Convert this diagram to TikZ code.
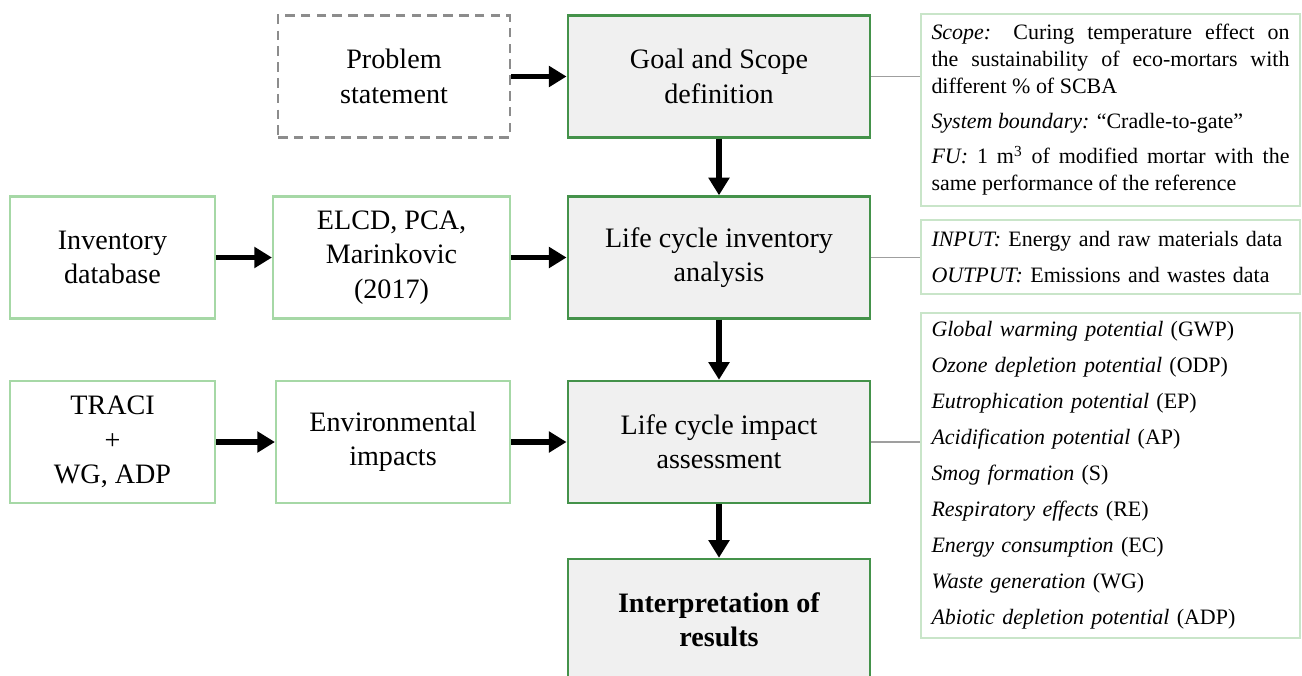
\documentclass[tikz,border=0pt]{standalone}
\usepackage{fontspec}
\setmainfont{Liberation Serif}
\usetikzlibrary{arrows.meta}

\definecolor{stagegreen}{HTML}{44924A}
\definecolor{srcgreen}{HTML}{A6D8A6}
\definecolor{notegreen}{HTML}{C9E5C9}
\definecolor{stagefill}{HTML}{F0F0F0}

\tikzset{
    stage/.style={draw=stagegreen, line width=1.4pt, fill=stagefill,
        minimum width=6.05cm, minimum height=2.44cm, align=center,
        font=\fontsize{16}{19.5}\selectfont},
    source/.style={draw=srcgreen, line width=1.2pt, fill=white,
        minimum height=2.44cm, align=center,
        font=\fontsize{16}{19.5}\selectfont},
    problem/.style={source, draw=gray!90, dash pattern=on 5.5pt off 3.5pt},
    note/.style={draw=notegreen, line width=0.9pt, fill=white,
        text width=7.16cm, inner xsep=0.21cm, align=left,
        font=\fontsize{12.5}{20.5}\selectfont},
    flow/.style={line width=3pt, -{Triangle[length=10pt,width=11.5pt]}},
    link/.style={draw=gray!75, line width=1pt}
}

\begin{document}
\begin{tikzpicture}
\clip (0,0) rectangle (26.04,-13.5);
% LCA stages
\node[stage] (goal) at (14.38,-1.53){Goal and Scope\\definition};
\node[stage] (lci) at (14.38,-5.15){Life cycle inventory\\analysis};
\node[stage] (lcia) at (14.38,-8.84){Life cycle impact\\assessment};
\node[stage] (interp) at (14.38,-12.40){\textbf{Interpretation of}\\\textbf{results}};
% inputs on the left
\node[problem, minimum width=4.64cm] (prob) at (7.88,-1.53){Problem\\statement};
\node[source, minimum width=4.10cm] (invdb) at (2.25,-5.15){Inventory\\database};
\node[source, minimum width=4.74cm] (elcd) at (7.83,-5.15){ELCD, PCA,\\Marinkovic\\(2017)};
\node[source, minimum width=4.10cm] (traci) at (2.25,-8.84){TRACI\\+\\WG, ADP};
\node[source, minimum width=4.68cm] (envimp) at (7.86,-8.84){Environmental\\impacts};
% notes on the right
\node[note, align=justify, minimum height=3.84cm,
    font=\fontsize{12.5}{15.4}\selectfont] (scope) at (22.21,-2.20){%
    \textit{Scope:} Curing temperature effect on\linebreak
    the sustainability of eco-mortars with\linebreak
    different \% of SCBA\par\vspace{4.5pt}
    \textit{System boundary:} ``Cradle-to-gate''\par\vspace{4.5pt}
    \textit{FU:} 1 m\textsuperscript{3} of modified mortar with the\linebreak
    same performance of the reference};
\node[note, minimum height=1.48cm] (lcinote) at (22.21,-5.14){%
    \textit{INPUT:} Energy and raw materials data\\
    \textit{OUTPUT:} Emissions and wastes data};
\node[note, minimum height=6.5cm] (impacts) at (22.21,-9.51){%
    \textit{Global warming potential} (GWP)\\
    \textit{Ozone depletion potential} (ODP)\\
    \textit{Eutrophication potential} (EP)\\
    \textit{Acidification potential} (AP)\\
    \textit{Smog formation} (S)\\
    \textit{Respiratory effects} (RE)\\
    \textit{Energy consumption} (EC)\\
    \textit{Waste generation} (WG)\\
    \textit{Abiotic depletion potential} (ADP)};
% arrows
\draw[flow] (prob) -- (goal);
\draw[flow] (invdb) -- (elcd);
\draw[flow] (elcd) -- (lci);
\draw[flow] (traci) -- (envimp);
\draw[flow] (envimp) -- (lcia);
\draw[flow] (goal) -- (lci);
\draw[flow] (lci) -- (lcia);
\draw[flow] (lcia) -- (interp);
% links to the notes
\draw[link] (goal.east) -- (goal.east -| scope.west);
\draw[link] (lci.east) -- (lci.east -| lcinote.west);
\draw[link] (lcia.east) -- (lcia.east -| impacts.west);
\end{tikzpicture}
\end{document}
